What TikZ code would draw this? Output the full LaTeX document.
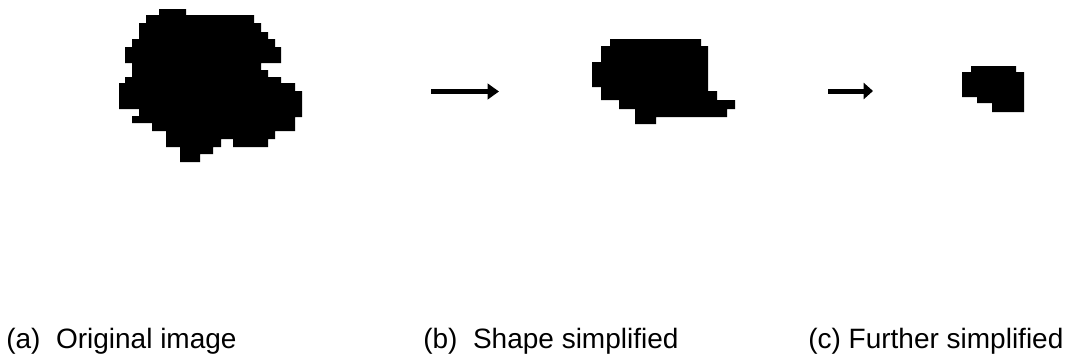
\documentclass[tikz,border=0pt]{standalone}
\usepackage{fontspec}
\setmainfont{Liberation Sans}
\usetikzlibrary{arrows.meta}
\begin{document}
\begin{tikzpicture}[x=0.75pt,y=-0.75pt,
  blob/.style={fill=black,draw=none},
  bigarrow/.style={line width=3.75pt,-{Triangle[length=8.5pt,width=11.5pt]}},
  smallarrow/.style={line width=3.75pt,-{Triangle[length=7pt,width=12pt]}},
  caption/.style={anchor=base west,inner sep=0pt,font=\fontsize{21pt}{25pt}\selectfont}]
\useasboundingbox (0,0) rectangle (1065,358);
% (a) original blob
\fill[blob] (159,9) -- (186,9) -- (186,15) -- (254,15) -- (254,23) -- (261,23) -- (261,32) -- (268,32) -- (268,39) -- (275,39) -- (275,47) -- (281,47) -- (281,63) -- (261,63) -- (261,70) -- (268,70) -- (268,77) -- (281,77) -- (281,83) -- (295,83) -- (295,91) -- (302,91) -- (302,117) -- (295,117) -- (295,131) -- (275,131) -- (275,139) -- (268,139) -- (268,147) -- (233,147) -- (233,139) -- (221,139) -- (221,147) -- (213,147) -- (213,154) -- (200,154) -- (200,162) -- (180,162) -- (180,147) -- (166,147) -- (166,131) -- (152,131) -- (152,123) -- (132,123) -- (132,116) -- (139,116) -- (139,109) -- (119,109) -- (119,83) -- (125,83) -- (125,77) -- (132,77) -- (132,63) -- (125,63) -- (125,47) -- (132,47) -- (132,39) -- (139,39) -- (139,23) -- (146,23) -- (146,15) -- (159,15) -- cycle;
% (b) simplified blob
\fill[blob] (610,39) -- (701,39) -- (701,46) -- (708,46) -- (708,91) -- (717,91) -- (717,100) -- (735,100) -- (735,109) -- (727,109) -- (727,117) -- (656,117) -- (656,124) -- (635,124) -- (635,109) -- (619,109) -- (619,100) -- (601,100) -- (601,87) -- (592,87) -- (592,62) -- (601,62) -- (601,46) -- (610,46) -- cycle;
% (c) further simplified blob
\fill[blob] (971,66) -- (1016,66) -- (1016,72) -- (1024,72) -- (1024,112) -- (992,112) -- (992,103) -- (977,103) -- (977,97) -- (962,97) -- (962,72) -- (971,72) -- cycle;
% arrows
\coordinate (a1s) at (431,91.5);
\coordinate (a1e) at (499,91.5);
\coordinate (a2s) at (828,91);
\coordinate (a2e) at (873,91);
\draw[bigarrow] (a1s) -- (a1e);
\draw[smallarrow] (a2s) -- (a2e);
% captions
\node[caption] (capa) at (6,348) {(a)\ \ Original image};
\node[caption] (capb) at (423,348) {(b)\ \ Shape simplified};
\node[caption] (capc) at (808,348) {(c) Further simplified};
\end{tikzpicture}
\end{document}
